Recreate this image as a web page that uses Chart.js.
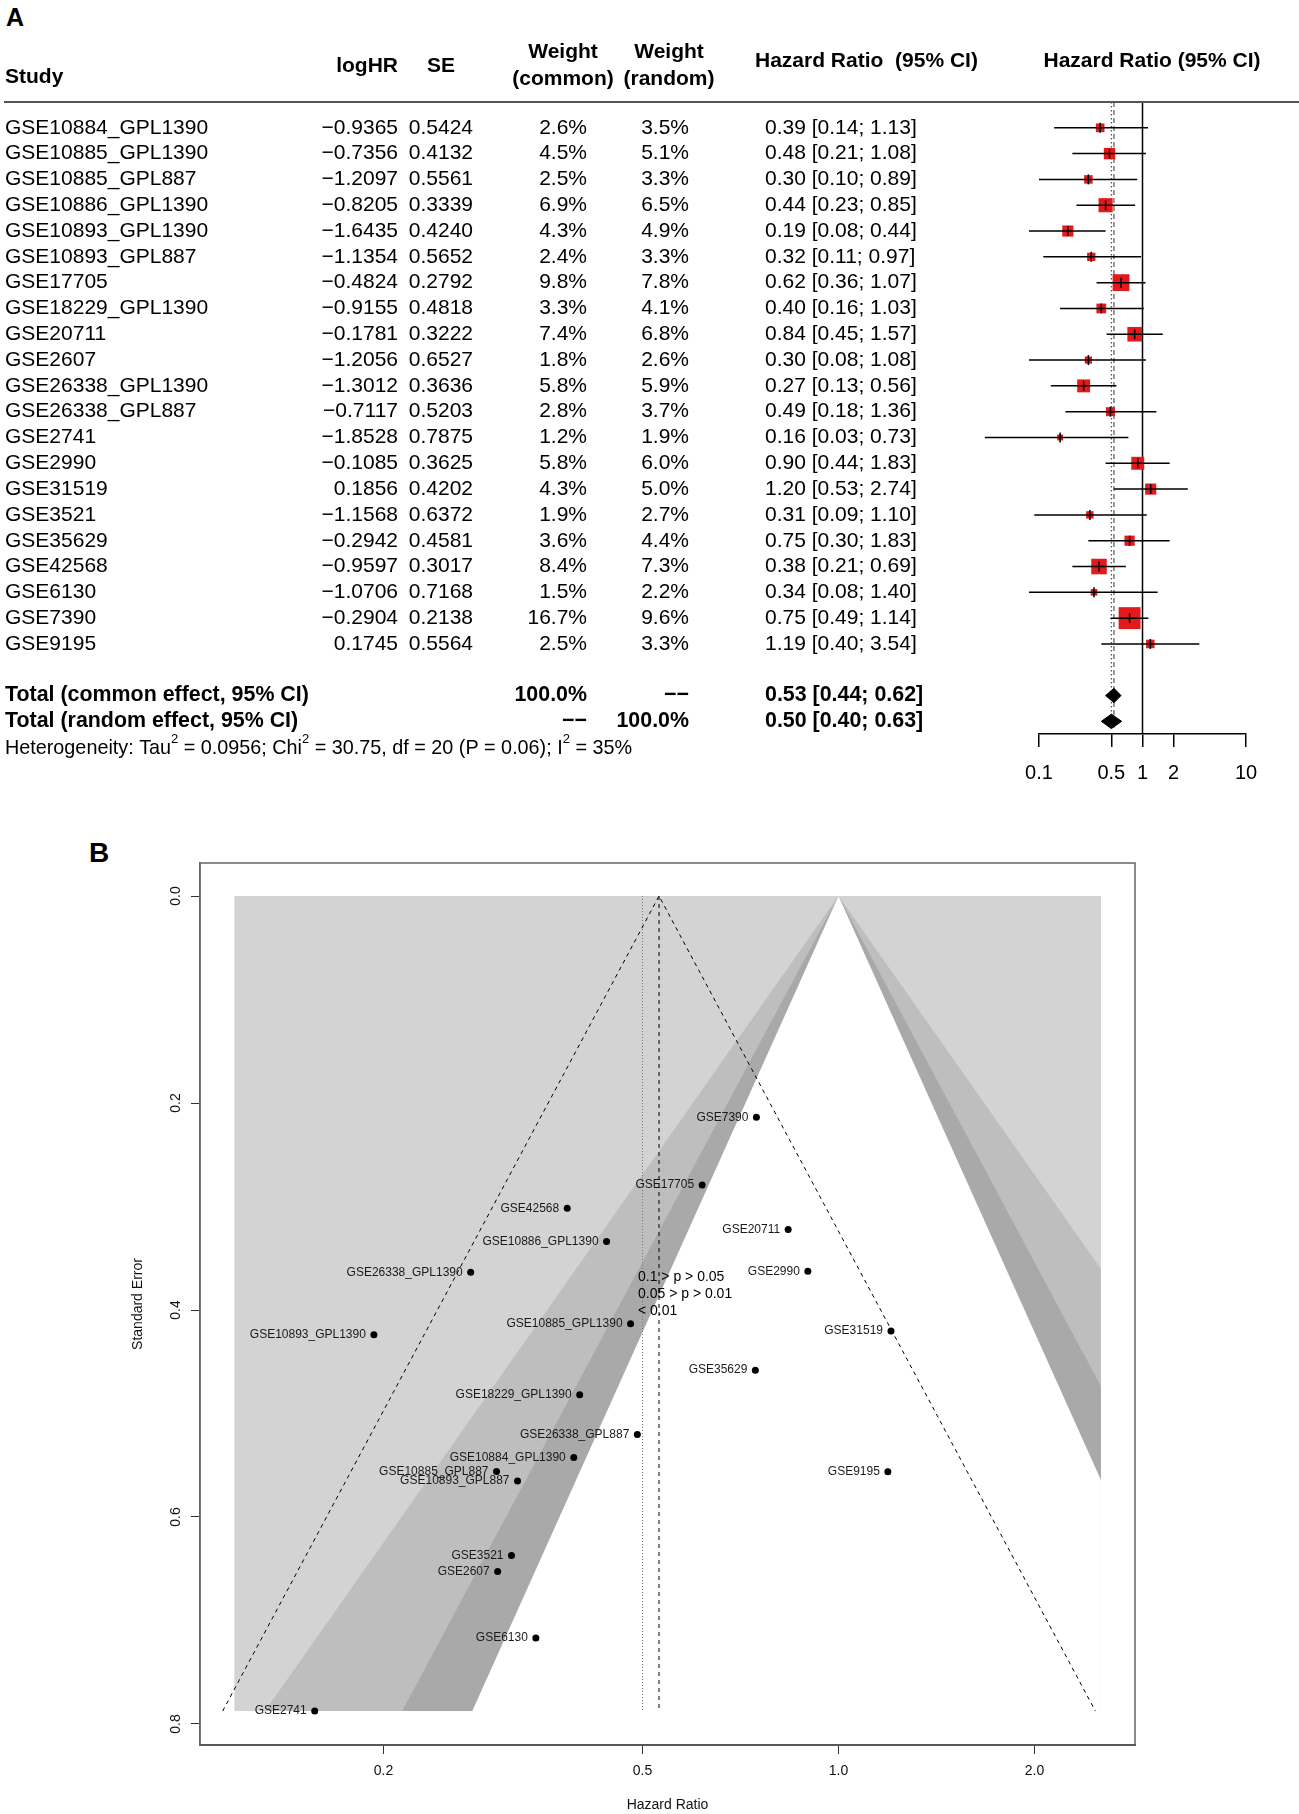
<!DOCTYPE html>
<html>
<head>
<meta charset="utf-8">
<script src="https://cdn.jsdelivr.net/npm/chart.js@4.4.1/dist/chart.umd.min.js"></script>
<style>
  body { margin: 0; background: #fff; font-family: "Liberation Sans", Arial, sans-serif; }
  #page { position: relative; width: 1299px; height: 1814px; overflow: hidden; }
  canvas { position: absolute; left: 0; }
  .tag { position: absolute; font-weight: bold; color: #000; line-height: 1; }
</style>
</head>
<body>
<div id="page">
  <div class="tag" style="left:6px;top:5px;font-size:25px">A</div>
  <div class="tag" style="left:89px;top:839px;font-size:28px">B</div>
  <canvas id="forest" width="1299" height="800" style="top:0"></canvas>
  <canvas id="funnel" width="1299" height="994" style="top:820px"></canvas>
</div>
<script>
// --- data ---
const studies = ['GSE10884_GPL1390', 'GSE10885_GPL1390', 'GSE10885_GPL887', 'GSE10886_GPL1390',
  'GSE10893_GPL1390', 'GSE10893_GPL887', 'GSE17705', 'GSE18229_GPL1390', 'GSE20711', 'GSE2607',
  'GSE26338_GPL1390', 'GSE26338_GPL887', 'GSE2741', 'GSE2990', 'GSE31519', 'GSE3521', 'GSE35629',
  'GSE42568', 'GSE6130', 'GSE7390', 'GSE9195'];
const logHR = [-0.9365, -0.7356, -1.2097, -0.8205, -1.6435, -1.1354, -0.4824, -0.9155, -0.1781, -1.2056,
  -1.3012, -0.7117, -1.8528, -0.1085, 0.1856, -1.1568, -0.2942, -0.9597, -1.0706, -0.2904, 0.1745];
const seHR = [0.5424, 0.4132, 0.5561, 0.3339, 0.4240, 0.5652, 0.2792, 0.4818, 0.3222, 0.6527,
  0.3636, 0.5203, 0.7875, 0.3625, 0.4202, 0.6372, 0.4581, 0.3017, 0.7168, 0.2138, 0.5564];
const weightCommon = [2.6, 4.5, 2.5, 6.9, 4.3, 2.4, 9.8, 3.3, 7.4, 1.8, 5.8, 2.8, 1.2, 5.8, 4.3, 1.9, 3.6, 8.4, 1.5, 16.7, 2.5];
const weightRandom = [3.5, 5.1, 3.3, 6.5, 4.9, 3.3, 7.8, 4.1, 6.8, 2.6, 5.9, 3.7, 1.9, 6.0, 5.0, 2.7, 4.4, 7.3, 2.2, 9.6, 3.3];
const hazardRatio = [0.39, 0.48, 0.30, 0.44, 0.19, 0.32, 0.62, 0.40, 0.84, 0.30, 0.27, 0.49, 0.16, 0.90, 1.20, 0.31, 0.75, 0.38, 0.34, 0.75, 1.19];
const ciLower = [0.14, 0.21, 0.10, 0.23, 0.08, 0.11, 0.36, 0.16, 0.45, 0.08, 0.13, 0.18, 0.03, 0.44, 0.53, 0.09, 0.30, 0.21, 0.08, 0.49, 0.40];
const ciUpper = [1.13, 1.08, 0.89, 0.85, 0.44, 0.97, 1.07, 1.03, 1.57, 1.08, 0.56, 1.36, 0.73, 1.83, 2.74, 1.10, 1.83, 0.69, 1.40, 1.14, 3.54];

const totalLabels = ['Total (common effect, 95% CI)', 'Total (random effect, 95% CI)'];
const totalWeightCommon = [100, null];
const totalWeightRandom = [null, 100];
const totalHR = [0.53, 0.50];
const totalLower = [0.44, 0.40];
const totalUpper = [0.62, 0.63];
const heterogeneity = { tau2: 0.0956, chi2: 30.75, df: 20, p: 0.06, i2: 35 };

const forestTicks = [0.1, 0.5, 1, 2, 10];
const funnelXTicks = [0.2, 0.5, 1, 2];
const funnelYTicks = [0, 0.2, 0.4, 0.6, 0.8];
const contourZ = [1.645, 1.96, 2.576];          // p = 0.10, 0.05, 0.01
const contourColors = ['#a9a9a9', '#bebebe', '#d3d3d3'];
const contourLabels = ['0.1 > p > 0.05', '0.05 > p > 0.01', '< 0.01'];
const funnelRange = [0.118, 2.53];              // extent of the shaded region (HR)

const family = '"Liberation Sans", Arial, Helvetica, sans-serif';
Chart.defaults.font.family = family;
Chart.defaults.color = '#000';

const minus = v => (v < 0 ? '\u2212' : '') + Math.abs(v).toFixed(4);
const pct = v => v == null ? '\u2212\u2212' : v.toFixed(1) + '%';
const ciText = (m, l, u) => `${m.toFixed(2)} [${l.toFixed(2)}; ${u.toFixed(2)}]`;

// --- panel A: forest plot ---
const rows = studies.map((_, i) => i);
const totalRows = [studies.length + 1, studies.length + 2];
const hetRow = studies.length + 3;
const yTop = -1, yBottom = 23.49, yRefEnd = 23.25;

const whiskers = [];
rows.forEach(i => {
  whiskers.push({ x: ciLower[i], y: i }, { x: ciUpper[i], y: i }, { x: NaN, y: NaN });
});

const diamonds = totalHR.map((m, k) => ({
  type: 'scatter', showLine: true, fill: 'shape', clip: false,
  data: [{ x: totalLower[k], y: totalRows[k] }, { x: m, y: totalRows[k] - 0.28 },
         { x: totalUpper[k], y: totalRows[k] }, { x: m, y: totalRows[k] + 0.28 },
         { x: totalLower[k], y: totalRows[k] }],
  backgroundColor: '#000', borderColor: '#000', borderWidth: 1, pointRadius: 0
}));

const tablePlugin = {
  id: 'forestTable',
  afterDraw(chart) {
    const { ctx } = chart;
    const y = chart.scales.y;
    const put = (t, x, py, align) => { ctx.textAlign = align; ctx.fillText(t, x, py); };
    ctx.save();
    ctx.fillStyle = '#000';
    ctx.textBaseline = 'middle';

    ctx.font = `bold 21px ${family}`;
    put('Study', 5, 77, 'left');
    put('logHR', 398, 66, 'right');
    put('SE', 441, 66, 'center');
    put('Weight', 563, 52, 'center');
    put('(common)', 563, 79, 'center');
    put('Weight', 669, 52, 'center');
    put('(random)', 669, 79, 'center');
    put('Hazard Ratio  (95% CI)', 755, 61, 'left');
    put('Hazard Ratio (95% CI)', 1152, 61, 'center');

    const rule = y.getPixelForValue(yTop);
    ctx.strokeStyle = '#555';
    ctx.lineWidth = 2;
    ctx.beginPath(); ctx.moveTo(4, rule); ctx.lineTo(1299, rule); ctx.stroke();

    ctx.font = `21px ${family}`;
    rows.forEach(i => {
      const py = y.getPixelForValue(i);
      put(studies[i], 5, py, 'left');
      put(minus(logHR[i]), 398, py, 'right');
      put(seHR[i].toFixed(4), 473, py, 'right');
      put(pct(weightCommon[i]), 587, py, 'right');
      put(pct(weightRandom[i]), 689, py, 'right');
      put(ciText(hazardRatio[i], ciLower[i], ciUpper[i]), 765, py, 'left');
    });

    ctx.font = `bold 21.4px ${family}`;
    totalRows.forEach((r, k) => {
      const py = y.getPixelForValue(r);
      put(totalLabels[k], 5, py, 'left');
      put(pct(totalWeightCommon[k]), 587, py, 'right');
      put(pct(totalWeightRandom[k]), 689, py, 'right');
      put(ciText(totalHR[k], totalLower[k], totalUpper[k]), 765, py, 'left');
    });

    // heterogeneity line with superscripts
    const hy = y.getPixelForValue(hetRow);
    const h = heterogeneity;
    const parts = [['Heterogeneity: Tau', 0], ['2', 1], [` = ${h.tau2.toFixed(4)}; Chi`, 0], ['2', 1],
      [` = ${h.chi2.toFixed(2)}, df = ${h.df} (P = ${h.p.toFixed(2)}); I`, 0], ['2', 1], [` = ${h.i2}%`, 0]];
    let hx = 5;
    ctx.textAlign = 'left';
    parts.forEach(([t, sup]) => {
      ctx.font = sup ? `13px ${family}` : `19.8px ${family}`;
      ctx.fillText(t, hx, sup ? hy - 8 : hy + 1);
      hx += ctx.measureText(t).width;
    });
    ctx.restore();
  }
};

new Chart(document.getElementById('forest'), {
  type: 'scatter',
  data: {
    datasets: [
      { // estimate tick inside each square
        data: rows.map(i => ({ x: hazardRatio[i], y: i })),
        pointStyle: 'line', rotation: 90, pointRadius: 5, borderColor: '#000', borderWidth: 1.5
      },
      { // confidence intervals
        data: whiskers, showLine: true, spanGaps: false, clip: false,
        borderColor: '#000', borderWidth: 1.5, pointRadius: 0
      },
      { // study squares, area by common-effect weight
        data: rows.map(i => ({ x: hazardRatio[i], y: i })),
        pointStyle: 'rect',
        pointRadius: c => Math.sqrt(weightCommon[c.dataIndex]) * 3.8,
        backgroundColor: '#e31a1c', borderColor: '#e31a1c', borderWidth: 0
      },
      ...diamonds,
      { // line of no effect
        data: [{ x: 1, y: yTop }, { x: 1, y: yBottom }], showLine: true,
        borderColor: '#000', borderWidth: 1.5, pointRadius: 0
      },
      { // common effect
        data: [{ x: totalHR[0], y: yTop }, { x: totalHR[0], y: yRefEnd }], showLine: true,
        borderColor: '#333', borderWidth: 1, borderDash: [5, 3], pointRadius: 0
      },
      { // random effect
        data: [{ x: totalHR[1], y: yTop }, { x: totalHR[1], y: yRefEnd }], showLine: true,
        borderColor: '#333', borderWidth: 1, borderDash: [1.5, 2.5], pointRadius: 0
      }
    ]
  },
  options: {
    responsive: false, animation: false, events: [],
    layout: { padding: { left: 1039, right: 53, top: 102, bottom: 0 } },
    plugins: { legend: { display: false }, tooltip: { enabled: false } },
    scales: {
      x: {
        type: 'logarithmic', min: 0.1, max: 10,
        afterBuildTicks: s => { s.ticks = forestTicks.map(v => ({ value: v })); },
        afterFit: s => { s.height = 66; },
        ticks: { callback: v => String(v), font: { size: 20 }, color: '#000', padding: 14, autoSkip: false, maxRotation: 0 },
        grid: { drawOnChartArea: false, drawTicks: true, tickLength: 13, color: '#000', lineWidth: 1.5 },
        border: { display: true, color: '#000', width: 1.5 }
      },
      y: { type: 'linear', reverse: true, min: yTop, max: yBottom, display: false }
    }
  },
  plugins: [tablePlugin]
});

// --- panel B: contour-enhanced funnel plot ---
const seMax = Math.max(...seHR);
const [xLeft, xRight] = funnelRange;

function contourPolygon(z) {
  const cut = Math.log(xRight) / z;   // SE where the band leaves the shaded region
  const pts = [{ x: 1, y: 0 }];
  if (cut < seMax) pts.push({ x: xRight, y: cut }, { x: xRight, y: seMax });
  else pts.push({ x: Math.exp(z * seMax), y: seMax });
  pts.push({ x: Math.exp(-z * seMax), y: seMax }, { x: 1, y: 0 });
  return pts;
}
const polygon = (data, color) => ({
  data, showLine: true, fill: 'shape', backgroundColor: color, borderColor: color,
  borderWidth: 0, pointRadius: 0
});

const teCommon = Math.log(totalHR[0]);
const funnelPlugin = {
  id: 'funnelText',
  beforeDatasetsDraw(chart) {
    const { ctx, chartArea: a } = chart;
    ctx.save();
    ctx.strokeStyle = '#666';
    ctx.lineWidth = 1.5;
    ctx.strokeRect(a.left, a.top, a.right - a.left, a.bottom - a.top);
    ctx.restore();
  },
  afterDatasetsDraw(chart) {
    const { ctx } = chart;
    const pts = chart.getDatasetMeta(0).data;
    ctx.save();
    ctx.font = `12px ${family}`;
    ctx.fillStyle = '#1a1a1a';
    ctx.textAlign = 'right';
    ctx.textBaseline = 'middle';
    pts.forEach((p, i) => ctx.fillText(studies[i], p.x - 8, p.y));
    ctx.font = `14px ${family}`;
    ctx.fillStyle = '#000';
    ctx.textAlign = 'left';
    contourLabels.forEach((t, k) => ctx.fillText(t, 638, 457 + k * 17));
    ctx.restore();
  }
};

new Chart(document.getElementById('funnel'), {
  type: 'scatter',
  data: {
    datasets: [
      { // studies
        data: studies.map((_, i) => ({ x: Math.exp(logHR[i]), y: seHR[i] })),
        pointRadius: 3.5, backgroundColor: '#000', borderColor: '#000', borderWidth: 0
      },
      { // pseudo 95% limits around the common effect
        data: [{ x: Math.exp(teCommon - 1.96 * seMax), y: seMax }, { x: totalHR[0], y: 0 },
               { x: Math.exp(teCommon + 1.96 * seMax), y: seMax }],
        showLine: true, borderColor: '#000', borderWidth: 1, borderDash: [4, 4], pointRadius: 0
      },
      {
        data: [{ x: totalHR[0], y: 0 }, { x: totalHR[0], y: seMax }], showLine: true,
        borderColor: '#000', borderWidth: 1, borderDash: [4, 4], pointRadius: 0
      },
      {
        data: [{ x: totalHR[1], y: 0 }, { x: totalHR[1], y: seMax }], showLine: true,
        borderColor: '#777', borderWidth: 1, borderDash: [1, 2], pointRadius: 0
      },
      polygon(contourPolygon(contourZ[0]), '#ffffff'),
      polygon(contourPolygon(contourZ[1]), contourColors[0]),
      polygon(contourPolygon(contourZ[2]), contourColors[1]),
      polygon([{ x: xLeft, y: 0 }, { x: xRight, y: 0 }, { x: xRight, y: seMax },
               { x: xLeft, y: seMax }, { x: xLeft, y: 0 }], contourColors[2])
    ]
  },
  options: {
    responsive: false, animation: false, events: [],
    layout: { padding: { left: 126, right: 164, top: 43, bottom: 0 } },
    plugins: { legend: { display: false }, tooltip: { enabled: false } },
    scales: {
      x: {
        type: 'logarithmic', min: 0.1045, max: 2.854,
        afterBuildTicks: s => { s.ticks = funnelXTicks.map(v => ({ value: v })); },
        afterFit: s => { s.height = 69; },
        ticks: { callback: v => v.toFixed(1), font: { size: 14 }, color: '#111', padding: 9, autoSkip: false, maxRotation: 0 },
        grid: { drawOnChartArea: false, drawTicks: true, tickLength: 9, color: '#333', lineWidth: 1 },
        border: { display: true, color: '#333', width: 2 },
        title: { display: true, text: 'Hazard Ratio', font: { size: 14 }, color: '#111', padding: { top: 0, bottom: 0 } }
      },
      y: {
        type: 'linear', reverse: true, min: -0.0319, max: 0.8203,
        afterBuildTicks: s => { s.ticks = funnelYTicks.map(v => ({ value: v })); },
        afterFit: s => { s.width = 74; },
        ticks: { callback: v => v.toFixed(1), font: { size: 14 }, color: '#111', padding: 5,
                 minRotation: 90, maxRotation: 90, crossAlign: 'center', autoSkip: false },
        grid: { drawOnChartArea: false, drawTicks: true, tickLength: 9, color: '#333', lineWidth: 1 },
        border: { display: true, color: '#666', width: 1.5 },
        title: { display: true, text: 'Standard Error', font: { size: 14 }, color: '#111' }
      }
    }
  },
  plugins: [funnelPlugin]
});
</script>
</body>
</html>
